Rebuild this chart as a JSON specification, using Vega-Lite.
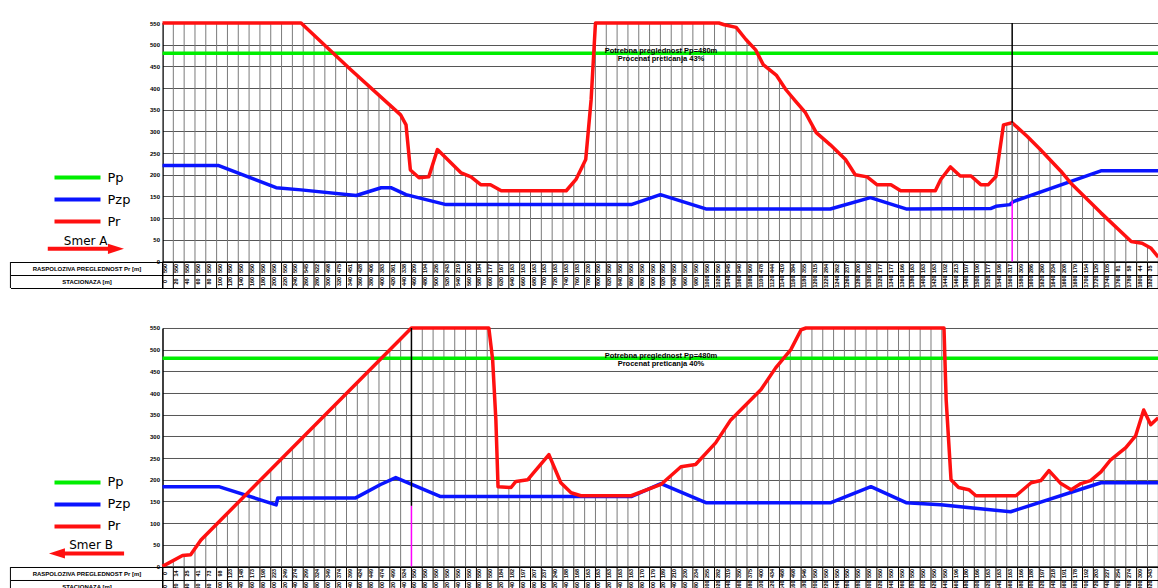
{
  "$schema": "https://vega.github.io/schema/vega-lite/v6.json",
  "background": "white",
  "padding": {"left": 9.5, "top": 20, "right": 0, "bottom": 0},
  "autosize": {"type": "pad"},
  "config": {
    "view": {"stroke": null},
    "font": "Liberation Sans",
    "axisY": {"tickCount": 12, "labelOverlap": false, "grid": true, "gridColor": "#555555", "gridWidth": 1, "ticks": false, "labelFontSize": 6, "labelFontWeight": "bold", "labelPadding": 3, "labelColor": "#000", "domainColor": "#000", "domainWidth": 1.5}
  },
  "resolve": {"scale": {"color": "independent", "stroke": "independent"}, "legend": {"color": "independent", "stroke": "independent"}},
  "datasets": {
    "top_pr": [
      {"m":0,"v":550},{"m":256,"v":550},{"m":348,"v":442},{"m":440,"v":338},{"m":450,"v":315},{"m":458,"v":211},{"m":474,"v":193},{"m":492,"v":195},{"m":508,"v":258},{"m":552,"v":204},{"m":570,"v":195},{"m":588,"v":177},{"m":606,"v":177},{"m":626,"v":163},{"m":746,"v":163},{"m":764,"v":189},{"m":782,"v":235},{"m":792,"v":373},{"m":800,"v":550},{"m":1028,"v":550},{"m":1038,"v":546},{"m":1060,"v":540},{"m":1078,"v":512},{"m":1096,"v":488},{"m":1110,"v":454},{"m":1134,"v":430},{"m":1152,"v":396},{"m":1170,"v":369},{"m":1188,"v":343},{"m":1208,"v":297},{"m":1234,"v":269},{"m":1262,"v":235},{"m":1280,"v":200},{"m":1302,"v":195},{"m":1320,"v":177},{"m":1346,"v":177},{"m":1364,"v":163},{"m":1428,"v":163},{"m":1438,"v":189},{"m":1456,"v":218},{"m":1474,"v":197},{"m":1494,"v":197},{"m":1512,"v":177},{"m":1526,"v":177},{"m":1540,"v":196},{"m":1550,"v":281},{"m":1554,"v":315},{"m":1570,"v":320},{"m":1598,"v":288},{"m":1622,"v":258},{"m":1660,"v":208},{"m":1678,"v":181},{"m":1734,"v":112},{"m":1790,"v":46},{"m":1810,"v":42},{"m":1826,"v":31},{"m":1840,"v":10}
    ],
    "top_pzp": [
      {"m":0,"v":221},{"m":104,"v":221},{"m":210,"v":170},{"m":256,"v":165},{"m":358,"v":152},{"m":404,"v":170},{"m":422,"v":170},{"m":450,"v":154},{"m":524,"v":131},{"m":866,"v":131},{"m":920,"v":154},{"m":1004,"v":121},{"m":1234,"v":121},{"m":1308,"v":147},{"m":1374,"v":121},{"m":1530,"v":122},{"m":1540,"v":127},{"m":1566,"v":131},{"m":1572,"v":138},{"m":1734,"v":209},{"m":1840,"v":209}
    ],
    "top_st": [
      {"m":0,"pr":550},{"m":20,"pr":550},{"m":40,"pr":550},{"m":60,"pr":550},{"m":80,"pr":550},{"m":100,"pr":550},{"m":120,"pr":550},{"m":140,"pr":550},{"m":160,"pr":550},{"m":180,"pr":550},{"m":200,"pr":550},{"m":220,"pr":550},{"m":240,"pr":550},
      {"m":260,"pr":545},{"m":280,"pr":522},{"m":300,"pr":498},{"m":320,"pr":475},{"m":340,"pr":451},{"m":360,"pr":428},{"m":380,"pr":406},{"m":400,"pr":383},{"m":420,"pr":361},{"m":440,"pr":338},{"m":460,"pr":209},{"m":480,"pr":194},{"m":500,"pr":226},{"m":520,"pr":243},{"m":540,"pr":219},{"m":560,"pr":200},{"m":580,"pr":184},{"m":600,"pr":177},{"m":620,"pr":167},{"m":640,"pr":163},{"m":660,"pr":163},{"m":680,"pr":163},{"m":700,"pr":163},{"m":720,"pr":163},{"m":740,"pr":163},{"m":760,"pr":183},{"m":780,"pr":230},
      {"m":800,"pr":550},{"m":820,"pr":550},{"m":840,"pr":550},{"m":860,"pr":550},{"m":880,"pr":550},{"m":900,"pr":550},{"m":920,"pr":550},{"m":940,"pr":550},{"m":960,"pr":550},{"m":980,"pr":550},{"m":1000,"pr":550},{"m":1020,"pr":550},
      {"m":1040,"pr":545},{"m":1060,"pr":540},{"m":1080,"pr":509},{"m":1100,"pr":478},{"m":1120,"pr":444},{"m":1140,"pr":419},{"m":1160,"pr":384},{"m":1180,"pr":355},{"m":1200,"pr":315},{"m":1220,"pr":284},{"m":1240,"pr":262},{"m":1260,"pr":237},{"m":1280,"pr":200},{"m":1300,"pr":195},{"m":1320,"pr":177},{"m":1340,"pr":177},{"m":1360,"pr":166},{"m":1380,"pr":163},{"m":1400,"pr":163},{"m":1420,"pr":163},{"m":1440,"pr":192},{"m":1460,"pr":213},{"m":1480,"pr":197},{"m":1500,"pr":190},{"m":1520,"pr":177},{"m":1540,"pr":196},{"m":1560,"pr":317},{"m":1580,"pr":309},{"m":1600,"pr":286},{"m":1620,"pr":260},{"m":1640,"pr":234},{"m":1660,"pr":208},{"m":1680,"pr":179},{"m":1700,"pr":154},{"m":1720,"pr":129},{"m":1740,"pr":105},{"m":1760,"pr":81},{"m":1780,"pr":58},{"m":1800,"pr":44},{"m":1820,"pr":35},{"m":1840,"pr":10}
    ],
    "bot_pr": [
      {"m":0,"v":0},{"m":37,"v":25},{"m":52,"v":27},{"m":71,"v":61},{"m":460,"v":550},{"m":603,"v":550},{"m":610,"v":477},{"m":616,"v":338},{"m":620,"v":184},{"m":644,"v":182},{"m":653,"v":196},{"m":675,"v":200},{"m":714,"v":258},{"m":736,"v":193},{"m":755,"v":170},{"m":773,"v":163},{"m":866,"v":163},{"m":921,"v":189},{"m":958,"v":230},{"m":985,"v":235},{"m":1022,"v":285},{"m":1050,"v":338},{"m":1106,"v":408},{"m":1133,"v":458},{"m":1161,"v":500},{"m":1180,"v":546},{"m":1189,"v":550},{"m":1444,"v":550},{"m":1448,"v":385},{"m":1457,"v":200},{"m":1471,"v":182},{"m":1490,"v":177},{"m":1503,"v":163},{"m":1577,"v":163},{"m":1605,"v":193},{"m":1623,"v":198},{"m":1638,"v":221},{"m":1660,"v":191},{"m":1679,"v":177},{"m":1697,"v":191},{"m":1715,"v":198},{"m":1734,"v":218},{"m":1752,"v":246},{"m":1780,"v":274},{"m":1798,"v":301},{"m":1813,"v":361},{"m":1826,"v":327},{"m":1840,"v":343}
    ],
    "bot_pzp": [
      {"m":0,"v":184},{"m":104,"v":184},{"m":210,"v":142},{"m":213,"v":158},{"m":357,"v":158},{"m":403,"v":189},{"m":431,"v":205},{"m":514,"v":161},{"m":866,"v":161},{"m":921,"v":191},{"m":1004,"v":147},{"m":1235,"v":147},{"m":1309,"v":184},{"m":1374,"v":147},{"m":1438,"v":142},{"m":1567,"v":126},{"m":1734,"v":193},{"m":1840,"v":193}
    ],
    "bot_st": [
      {"m":0,"pr":0},{"m":20,"pr":14},{"m":40,"pr":25},{"m":60,"pr":41},{"m":80,"pr":73},{"m":100,"pr":98},{"m":120,"pr":123},{"m":140,"pr":148},{"m":160,"pr":173},{"m":180,"pr":198},{"m":200,"pr":223},{"m":220,"pr":249},{"m":240,"pr":274},{"m":260,"pr":299},{"m":280,"pr":324},{"m":300,"pr":349},{"m":320,"pr":374},{"m":340,"pr":399},{"m":360,"pr":424},{"m":380,"pr":449},{"m":400,"pr":474},{"m":420,"pr":499},{"m":440,"pr":524},{"m":460,"pr":550},
      {"m":480,"pr":550},{"m":500,"pr":550},{"m":520,"pr":550},{"m":540,"pr":550},{"m":560,"pr":550},{"m":580,"pr":550},{"m":600,"pr":550},
      {"m":620,"pr":184},{"m":640,"pr":182},{"m":660,"pr":197},{"m":680,"pr":207},{"m":700,"pr":237},{"m":720,"pr":240},{"m":740,"pr":188},{"m":760,"pr":168},{"m":780,"pr":163},{"m":800,"pr":163},{"m":820,"pr":163},{"m":840,"pr":163},{"m":860,"pr":163},{"m":880,"pr":170},{"m":900,"pr":179},{"m":920,"pr":189},{"m":940,"pr":210},{"m":960,"pr":230},{"m":980,"pr":234},{"m":1000,"pr":255},{"m":1020,"pr":282},{"m":1040,"pr":319},{"m":1060,"pr":350},{"m":1080,"pr":375},{"m":1100,"pr":400},{"m":1120,"pr":434},{"m":1140,"pr":468},{"m":1160,"pr":498},{"m":1180,"pr":546},
      {"m":1200,"pr":550},{"m":1220,"pr":550},{"m":1240,"pr":550},{"m":1260,"pr":550},{"m":1280,"pr":550},{"m":1300,"pr":550},{"m":1320,"pr":550},{"m":1340,"pr":550},{"m":1360,"pr":550},{"m":1380,"pr":550},{"m":1400,"pr":550},{"m":1420,"pr":550},{"m":1440,"pr":550},
      {"m":1460,"pr":196},{"m":1480,"pr":180},{"m":1500,"pr":166},{"m":1520,"pr":163},{"m":1540,"pr":163},{"m":1560,"pr":163},{"m":1580,"pr":166},{"m":1600,"pr":188},{"m":1620,"pr":197},{"m":1640,"pr":218},{"m":1660,"pr":191},{"m":1680,"pr":178},{"m":1700,"pr":192},{"m":1720,"pr":203},{"m":1740,"pr":227},{"m":1760,"pr":254},{"m":1780,"pr":274},{"m":1800,"pr":309},{"m":1820,"pr":343},{"m":1840,"pr":343}
    ],
    "top_marks": [{"m": 1570, "v": 0, "v2": 140, "kind": "magenta"}, {"m": 1570, "v": 140, "v2": 320, "kind": "gray"}, {"m": 1570, "v": 320, "v2": 550, "kind": "black"}],
    "bot_marks": [{"m": 460, "v": 0, "v2": 140, "kind": "magenta"}, {"m": 460, "v": 140, "v2": 550, "kind": "black"}],
    "table_edge": [{"m": -281}]
  },
  "spacing": 36,
  "vconcat": [
    {
      "spacing": 0,
      "bounds": "flush",
      "vconcat": [
        {
          "width": 995.8,
          "height": 238.4,
          "layer": [
            {
              "data": {"name": "top_st"},
              "mark": {"type": "rule", "color": "#7a7a7a", "strokeWidth": 1},
              "encoding": {
                "x": {"field": "m", "type": "quantitative", "scale": {"domain": [0, 1840], "nice": false, "zero": false}, "axis": null},
                "y": {"field": "pr", "type": "quantitative", "scale": {"domain": [0, 550], "nice": false},
                  "axis": {"title": null, "values": [0,50,100,150,200,250,300,350,400,450,500,550]}},
                "y2": {"datum": 0}
              }
            },
            {
              "data": {"values": [{"v": 480}]},
              "mark": {"type": "rule", "strokeWidth": 3.5},
              "encoding": {
                "y": {"field": "v", "type": "quantitative"},
                "color": {"datum": "Pp", "type": "nominal",
                  "scale": {"domain": ["Pp", "Pzp", "Pr"], "range": ["#00ee00", "#0a14ff", "#ff1010"]},
                  "legend": {"title": null, "orient": "none", "legendX": -110, "legendY": 143.5, "symbolType": "stroke", "symbolSize": 2116, "symbolStrokeWidth": 4, "clipHeight": 22, "rowPadding": 0, "labelFontSize": 13, "labelFont": "DejaVu Sans", "labelOffset": 5, "padding": 0, "labelColor": "#000"}}
              }
            },
            {
              "data": {"name": "top_pzp"},
              "mark": {"type": "line", "strokeWidth": 3.5, "strokeJoin": "round"},
              "encoding": {
                "x": {"field": "m", "type": "quantitative"},
                "y": {"field": "v", "type": "quantitative"},
                "color": {"datum": "Pzp", "type": "nominal"}
              }
            },
            {
              "data": {"name": "top_pr"},
              "mark": {"type": "line", "strokeWidth": 3.5, "strokeJoin": "round"},
              "encoding": {
                "x": {"field": "m", "type": "quantitative"},
                "y": {"field": "v", "type": "quantitative"},
                "color": {"datum": "Pr", "type": "nominal"}
              }
            },
            {
              "data": {"name": "top_marks"},
              "mark": {"type": "rule", "strokeWidth": 1.5},
              "encoding": {
                "x": {"field": "m", "type": "quantitative"},
                "y": {"field": "v", "type": "quantitative"},
                "y2": {"field": "v2"},
                "stroke": {"field": "kind", "type": "nominal", "scale": {"domain": ["magenta", "gray", "black"], "range": ["#ff00ff", "#666666", "#000000"]}, "legend": null}
              }
            },
            {
              "data": {"values": [{"m": 921, "v": 486}]},
              "mark": {"type": "text", "text": ["Potrebna preglednost Pp=480m", "Procenat preticanja 43%"], "fontSize": 7.5, "fontWeight": "bold", "lineHeight": 8.5, "color": "#000"},
              "encoding": {"x": {"field": "m", "type": "quantitative"}, "y": {"field": "v", "type": "quantitative"}}
            },
            {
              "data": {"values": [{"m": -142, "v": 47}]},
              "mark": {"type": "text", "text": "Smer A", "fontSize": 12, "font": "DejaVu Sans", "color": "#000"},
              "encoding": {"x": {"field": "m", "type": "quantitative"}, "y": {"field": "v", "type": "quantitative"}}
            },
            {
              "data": {"values": [{"m": -212, "v": 29}, {"m": -96, "v": 29}]},
              "mark": {"type": "line", "color": "#ff1010", "strokeWidth": 4},
              "encoding": {"x": {"field": "m", "type": "quantitative"}, "y": {"field": "v", "type": "quantitative"}}
            },
            {
              "data": {"values": [{"m": -86, "v": 29}]},
              "mark": {"type": "point", "shape": "M-1,-0.65L1,0L-1,0.65Z", "filled": true, "color": "#ff1010", "opacity": 1, "size": 256},
              "encoding": {"x": {"field": "m", "type": "quantitative"}, "y": {"field": "v", "type": "quantitative"}}
            }
          ]
        },
        {
          "width": 995.8,
          "height": 26,
          "layer": [
            {
              "data": {"name": "top_st"},
              "mark": {"type": "rule", "color": "#000", "strokeWidth": 1},
              "encoding": {"x": {"field": "m", "type": "quantitative", "scale": {"domain": [0, 1840], "nice": false, "zero": false}, "axis": null}}
            },
            {
              "data": {"name": "table_edge"},
              "mark": {"type": "rule", "color": "#000", "strokeWidth": 1},
              "encoding": {"x": {"field": "m", "type": "quantitative"}}
            },
            {
              "data": {"name": "top_st"},
              "transform": [{"fold": ["pr", "m"], "as": ["key", "val"]}],
              "mark": {"type": "text", "angle": 270, "fontSize": 5.5, "fontWeight": "bold", "dy": 3, "color": "#000"},
              "encoding": {
                "x": {"field": "m", "type": "quantitative"},
                "y": {"field": "key", "type": "nominal", "scale": {"domain": ["pr", "m"], "paddingInner": 0, "paddingOuter": 0},
                  "axis": {"title": null, "ticks": true, "tickBand": "extent", "tickSize": 152, "tickColor": "#000", "tickWidth": 1, "grid": true, "gridColor": "#000", "labelAlign": "center", "labelPadding": -76, "labelFontSize": 6, "labelFontWeight": "bold", "labelColor": "#000", "domainColor": "#000", "domainWidth": 1,
                    "labelExpr": "datum.value == 'pr' ? 'RASPOLOZIVA PREGLEDNOST Pr [m]' : (datum.value == 'm' ? 'STACIONAZA [m]' : '')"}},
                "text": {"field": "val", "type": "quantitative", "format": "d"}
              }
            }
          ]
        }
      ]
    },
    {
      "spacing": 0,
      "bounds": "flush",
      "vconcat": [
        {
          "width": 995.8,
          "height": 238.4,
          "layer": [
            {
              "data": {"name": "bot_st"},
              "mark": {"type": "rule", "color": "#7a7a7a", "strokeWidth": 1},
              "encoding": {
                "x": {"field": "m", "type": "quantitative", "scale": {"domain": [0, 1840], "nice": false, "zero": false}, "axis": null},
                "y": {"field": "pr", "type": "quantitative", "scale": {"domain": [0, 550], "nice": false},
                  "axis": {"title": null, "values": [0,50,100,150,200,250,300,350,400,450,500,550]}},
                "y2": {"datum": 0}
              }
            },
            {
              "data": {"values": [{"v": 480}]},
              "mark": {"type": "rule", "strokeWidth": 3.5},
              "encoding": {
                "y": {"field": "v", "type": "quantitative"},
                "color": {"datum": "Pp", "type": "nominal",
                  "scale": {"domain": ["Pp", "Pzp", "Pr"], "range": ["#00ee00", "#0a14ff", "#ff1010"]},
                  "legend": {"title": null, "orient": "none", "legendX": -110, "legendY": 143.5, "symbolType": "stroke", "symbolSize": 2116, "symbolStrokeWidth": 4, "clipHeight": 22, "rowPadding": 0, "labelFontSize": 13, "labelFont": "DejaVu Sans", "labelOffset": 5, "padding": 0, "labelColor": "#000"}}
              }
            },
            {
              "data": {"name": "bot_pzp"},
              "mark": {"type": "line", "strokeWidth": 3.5, "strokeJoin": "round"},
              "encoding": {
                "x": {"field": "m", "type": "quantitative"},
                "y": {"field": "v", "type": "quantitative"},
                "color": {"datum": "Pzp", "type": "nominal"}
              }
            },
            {
              "data": {"name": "bot_pr"},
              "mark": {"type": "line", "strokeWidth": 3.5, "strokeJoin": "round"},
              "encoding": {
                "x": {"field": "m", "type": "quantitative"},
                "y": {"field": "v", "type": "quantitative"},
                "color": {"datum": "Pr", "type": "nominal"}
              }
            },
            {
              "data": {"name": "bot_marks"},
              "mark": {"type": "rule", "strokeWidth": 1.5},
              "encoding": {
                "x": {"field": "m", "type": "quantitative"},
                "y": {"field": "v", "type": "quantitative"},
                "y2": {"field": "v2"},
                "stroke": {"field": "kind", "type": "nominal", "scale": {"domain": ["magenta", "gray", "black"], "range": ["#ff00ff", "#666666", "#000000"]}, "legend": null}
              }
            },
            {
              "data": {"values": [{"m": 921, "v": 486}]},
              "mark": {"type": "text", "text": ["Potrebna preglednost Pp=480m", "Procenat preticanja 40%"], "fontSize": 7.5, "fontWeight": "bold", "lineHeight": 8.5, "color": "#000"},
              "encoding": {"x": {"field": "m", "type": "quantitative"}, "y": {"field": "v", "type": "quantitative"}}
            },
            {
              "data": {"values": [{"m": -132, "v": 49}]},
              "mark": {"type": "text", "text": "Smer B", "fontSize": 12, "font": "DejaVu Sans", "color": "#000"},
              "encoding": {"x": {"field": "m", "type": "quantitative"}, "y": {"field": "v", "type": "quantitative"}}
            },
            {
              "data": {"values": [{"m": -184, "v": 30}, {"m": -71, "v": 30}]},
              "mark": {"type": "line", "color": "#ff1010", "strokeWidth": 4},
              "encoding": {"x": {"field": "m", "type": "quantitative"}, "y": {"field": "v", "type": "quantitative"}}
            },
            {
              "data": {"values": [{"m": -195, "v": 30}]},
              "mark": {"type": "point", "shape": "M1,-0.65L-1,0L1,0.65Z", "filled": true, "color": "#ff1010", "opacity": 1, "size": 256},
              "encoding": {"x": {"field": "m", "type": "quantitative"}, "y": {"field": "v", "type": "quantitative"}}
            }
          ]
        },
        {
          "width": 995.8,
          "height": 26,
          "layer": [
            {
              "data": {"name": "bot_st"},
              "mark": {"type": "rule", "color": "#000", "strokeWidth": 1},
              "encoding": {"x": {"field": "m", "type": "quantitative", "scale": {"domain": [0, 1840], "nice": false, "zero": false}, "axis": null}}
            },
            {
              "data": {"name": "table_edge"},
              "mark": {"type": "rule", "color": "#000", "strokeWidth": 1},
              "encoding": {"x": {"field": "m", "type": "quantitative"}}
            },
            {
              "data": {"name": "bot_st"},
              "transform": [{"fold": ["pr", "m"], "as": ["key", "val"]}],
              "mark": {"type": "text", "angle": 270, "fontSize": 5.5, "fontWeight": "bold", "dy": 3, "color": "#000"},
              "encoding": {
                "x": {"field": "m", "type": "quantitative"},
                "y": {"field": "key", "type": "nominal", "scale": {"domain": ["pr", "m"], "paddingInner": 0, "paddingOuter": 0},
                  "axis": {"title": null, "ticks": true, "tickBand": "extent", "tickSize": 152, "tickColor": "#000", "tickWidth": 1, "grid": true, "gridColor": "#000", "labelAlign": "center", "labelPadding": -76, "labelFontSize": 6, "labelFontWeight": "bold", "labelColor": "#000", "domainColor": "#000", "domainWidth": 1,
                    "labelExpr": "datum.value == 'pr' ? 'RASPOLOZIVA PREGLEDNOST Pr [m]' : (datum.value == 'm' ? 'STACIONAZA [m]' : '')"}},
                "text": {"field": "val", "type": "quantitative", "format": "d"}
              }
            }
          ]
        }
      ]
    }
  ]
}
